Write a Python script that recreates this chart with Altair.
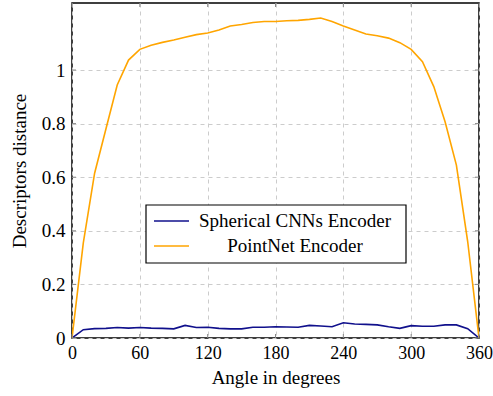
import altair as alt
import pandas as pd

angles = list(range(0, 361, 10))
spherical = [0.0, 0.031, 0.035, 0.036, 0.039, 0.037, 0.039, 0.037, 0.036, 0.034,
             0.047, 0.039, 0.040, 0.036, 0.034, 0.034, 0.040, 0.040, 0.042, 0.041,
             0.040, 0.047, 0.045, 0.042, 0.057, 0.052, 0.051, 0.049, 0.042, 0.036,
             0.046, 0.044, 0.044, 0.049, 0.049, 0.035, 0.0]
pointnet = [0.0, 0.355, 0.615, 0.78, 0.944, 1.037, 1.077, 1.092, 1.103, 1.112,
            1.122, 1.132, 1.138, 1.149, 1.164, 1.170, 1.177, 1.181, 1.181, 1.184,
            1.185, 1.189, 1.194, 1.181, 1.164, 1.149, 1.134, 1.128, 1.119, 1.102,
            1.077, 1.031, 0.938, 0.807, 0.645, 0.36, 0.0]
series_names = ["Spherical CNNs Encoder", "PointNet Encoder"]
series_colors = ["#10108c", "#ffa500"]
x_ticks = [0, 60, 120, 180, 240, 300, 360]
y_ticks = [0, 0.2, 0.4, 0.6, 0.8, 1]

FONT = "Liberation Serif"
W, H = 407, 335

df = pd.concat([
    pd.DataFrame({"angle": angles, "value": spherical, "series": series_names[0]}),
    pd.DataFrame({"angle": angles, "value": pointnet, "series": series_names[1]}),
])

xscale = alt.Scale(domain=[0, 360], nice=False, zero=False)
yscale = alt.Scale(domain=[0, 1.25], nice=False)
cscale = alt.Scale(domain=series_names, range=series_colors)

lines = alt.Chart(df).mark_line(strokeWidth=1.6, clip=True).encode(
    x=alt.X("angle:Q", scale=xscale,
            axis=alt.Axis(values=x_ticks, title="Angle in degrees", grid=True,
                          labelFlush=False, labelFontSize=18,
                          gridDash=[4, 4], gridColor="#cccccc", ticks=False,
                          labelPadding=6, titlePadding=6, domain=False)),
    y=alt.Y("value:Q", scale=yscale,
            axis=alt.Axis(values=y_ticks, title="Descriptors distance", grid=True,
                          format="~g", labelFlush=False,
                          gridDash=[4, 4], gridColor="#cccccc", ticks=False,
                          labelPadding=7, titlePadding=12, domain=False)),
    color=alt.Color("series:N", scale=cscale, legend=None),
    order=alt.Order("angle:Q"),
)

xt = pd.DataFrame({"t": x_ticks})
yt = pd.DataFrame({"t": y_ticks})
xtick_bot = alt.Chart(xt).mark_rule(color="#888888", strokeWidth=1).encode(
    x=alt.X("t:Q", scale=xscale), y=alt.value(H), y2=alt.value(H - 4))
xtick_top = alt.Chart(xt).mark_rule(color="#888888", strokeWidth=1).encode(
    x=alt.X("t:Q", scale=xscale), y=alt.value(0), y2=alt.value(4))
ytick_l = alt.Chart(yt).mark_rule(color="#888888", strokeWidth=1).encode(
    y=alt.Y("t:Q", scale=yscale), x=alt.value(0), x2=alt.value(4))
ytick_r = alt.Chart(yt).mark_rule(color="#888888", strokeWidth=1).encode(
    y=alt.Y("t:Q", scale=yscale), x=alt.value(W), x2=alt.value(W - 4))

# manual legend
leg_box = alt.Chart(pd.DataFrame({"a": [0]})).mark_rect(
    fill="white", stroke="black", strokeWidth=1.2).encode(
    x=alt.value(74), x2=alt.value(334), y=alt.value(202), y2=alt.value(260))
leg_layers = [leg_box]
row_y = [218, 243]
for name, col, ry in zip(series_names, series_colors, row_y):
    d = pd.DataFrame({"series": [name]})
    leg_layers.append(alt.Chart(d).mark_rule(color=col, strokeWidth=1.6).encode(
        x=alt.value(82), x2=alt.value(117), y=alt.value(ry)))
    leg_layers.append(alt.Chart(d).mark_text(
        font=FONT, fontSize=19, align="center", baseline="middle", color="black").encode(
        text="series:N", x=alt.value(223), y=alt.value(ry)))

chart = alt.layer(lines, xtick_bot, xtick_top, ytick_l, ytick_r, *leg_layers).properties(
    width=W, height=H,
    background="white",
    autosize=alt.AutoSizeParams(type="none"),
    padding={"left": 72, "top": 3, "right": 14, "bottom": 58},
).configure_view(
    stroke="black", strokeWidth=1.5
).configure_axis(
    labelFont=FONT, titleFont=FONT, labelFontSize=19, titleFontSize=19,
    labelColor="black", titleColor="black", titleFontWeight="normal",
)

chart.save("out.html", embed_options={"renderer": "svg", "actions": False})
